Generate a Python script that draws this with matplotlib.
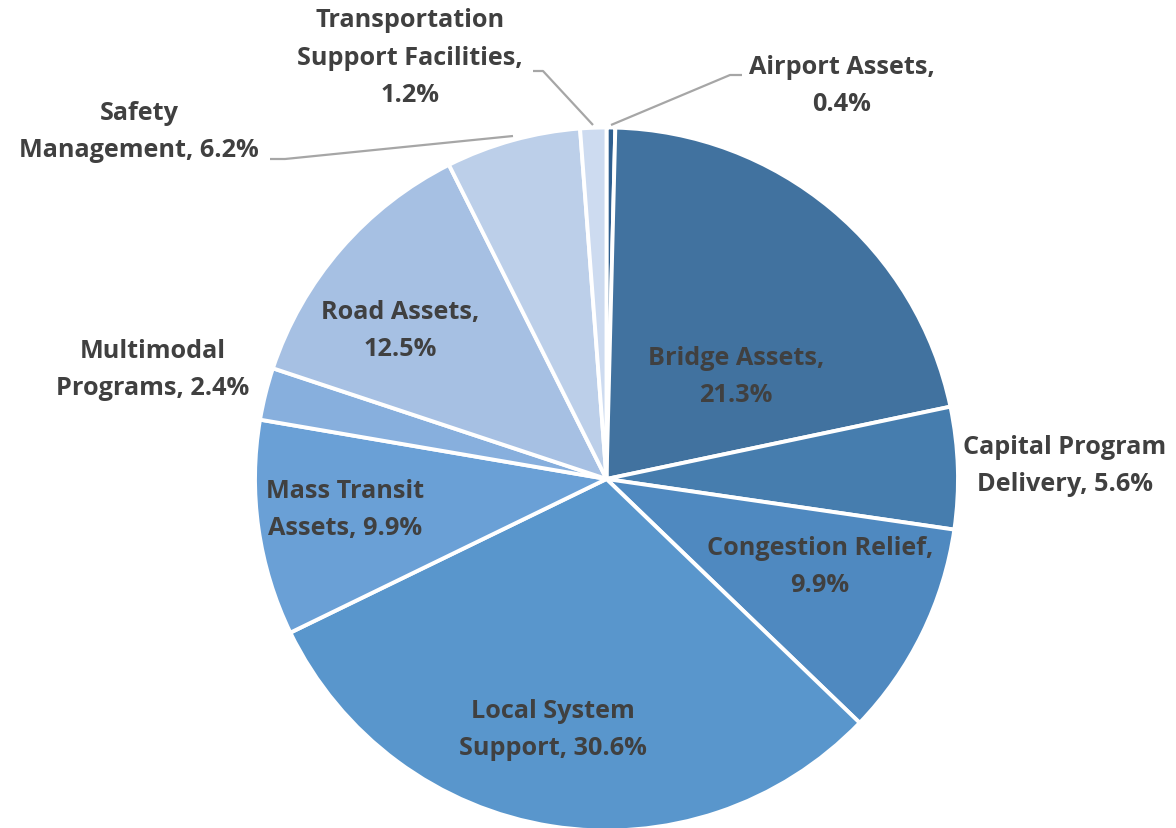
import matplotlib.pyplot as plt

# data, clockwise from 12 o'clock
categories = ['Airport Assets', 'Bridge Assets', 'Capital Program Delivery',
              'Congestion Relief', 'Local System Support', 'Mass Transit Assets',
              'Multimodal Programs', 'Road Assets', 'Safety Management',
              'Transportation Support Facilities']
shares = [0.4, 21.3, 5.6, 9.9, 30.6, 9.9, 2.4, 12.5, 6.2, 1.2]
colors = ['#2f5f8f', '#41729f', '#467dae', '#4f89c0', '#5996cc',
          '#6aa0d6', '#87afdd', '#a6c0e3', '#bccfe9', '#cddbf0']

# label text as it is broken over lines in the chart
label_text = {
    'Airport Assets': 'Airport Assets,\n0.4%',
    'Bridge Assets': 'Bridge Assets,\n21.3%',
    'Capital Program Delivery': 'Capital Program\nDelivery, 5.6%',
    'Congestion Relief': 'Congestion Relief,\n9.9%',
    'Local System Support': 'Local System\nSupport, 30.6%',
    'Mass Transit Assets': 'Mass Transit\nAssets, 9.9%',
    'Multimodal Programs': 'Multimodal\nPrograms, 2.4%',
    'Road Assets': 'Road Assets,\n12.5%',
    'Safety Management': 'Safety\nManagement, 6.2%',
    'Transportation Support Facilities': 'Transportation\nSupport Facilities,\n1.2%',
}

W, H = 1176, 829
fig = plt.figure(figsize=(W / 100, H / 100), dpi=100)
ax = fig.add_axes([0, 0, 1, 1])

cx, cy, r = 606.5, H - 480, 351.5
ax.pie(shares, colors=colors, startangle=90, counterclock=False,
       center=(cx, cy), radius=r, frame=True,
       wedgeprops=dict(edgecolor='white', linewidth=2.8))
ax.set_xlim(0, W)
ax.set_ylim(0, H)
ax.set_aspect('equal')
ax.axis('off')

# label positions in pixel coords (from top-left)
label_pos = {
    'Airport Assets': (842, 86),
    'Bridge Assets': (736, 377),
    'Capital Program Delivery': (1065, 466),
    'Congestion Relief': (820, 567),
    'Local System Support': (553, 730),
    'Mass Transit Assets': (345, 510),
    'Multimodal Programs': (153, 370),
    'Road Assets': (400, 331),
    'Safety Management': (139, 132),
    'Transportation Support Facilities': (410, 58),
}

for name in categories:
    x, y = label_pos[name]
    ax.text(x, H - y, label_text[name], ha='center', va='center',
            fontsize=18.2, fontweight='bold', color='#404040',
            family='Open Sans', linespacing=1.68)

# leader lines for the small outside labels
leaders = [
    [(611, 126), (730, 76), (742, 76)],
    [(593, 126), (543, 72), (533, 72)],
    [(513, 137), (285, 160), (270, 160)],
]
for pts in leaders:
    xs = [p[0] for p in pts]
    ys = [H - p[1] for p in pts]
    ax.plot(xs, ys, color='#a6a6a6', linewidth=1.6, solid_capstyle='butt')

fig.savefig('out.png', dpi=100)
